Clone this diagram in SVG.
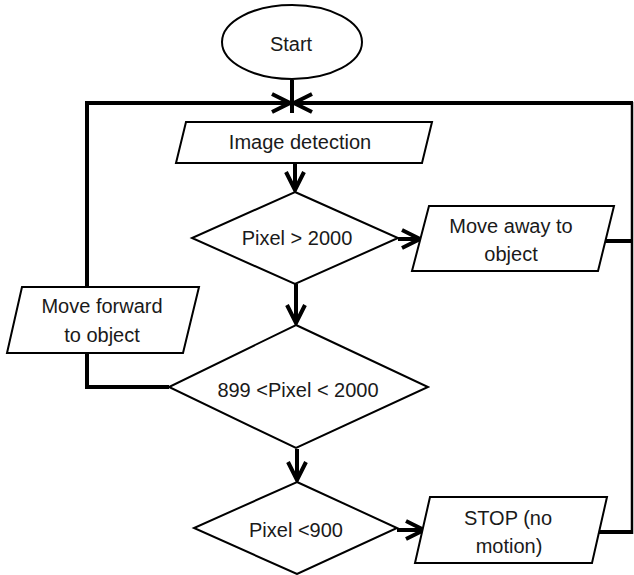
<svg xmlns="http://www.w3.org/2000/svg" width="634" height="575" viewBox="0 0 634 575">
  <style>
    .shape { fill: #ffffff; stroke: #000000; stroke-width: 2; stroke-linejoin: miter; }
    .label { font-family: "Liberation Sans", Arial, sans-serif; font-size: 20px; fill: #1a1a1a; text-anchor: middle; }
    .wire { fill: none; stroke: #000000; stroke-width: 4; stroke-linejoin: miter; }
    .thin { fill: none; stroke: #000000; stroke-width: 2.5; }
    .flow { fill: none; stroke: #000000; stroke-width: 4; marker-end: url(#chevron); }
  </style>
  <defs>
    <marker id="chevron" viewBox="-20 -11 22 22" refX="0" refY="0" markerWidth="22" markerHeight="22" markerUnits="userSpaceOnUse" orient="auto">
      <path d="M-18,-9 L0,0 L-18,9" fill="none" stroke="#000000" stroke-width="4" stroke-linejoin="miter"/>
    </marker>
  </defs>

  <!-- connectors -->
  <g id="connectors">
    <!-- start down to the merge point -->
    <line x1="292" y1="80" x2="292" y2="113" stroke="#000" stroke-width="4"/>
    <!-- return path from "Move forward" -->
    <path class="wire" d="M169,387 L87,387 L87,353"/>
    <path class="flow" d="M87,287 L87,103 L290,103"/>
    <!-- return path from the right-hand outputs -->
    <path class="wire" d="M605,241 L633,241"/>
    <path class="wire" d="M599,532 L633,532"/>
    <line class="thin" x1="632" y1="534" x2="632" y2="102"/>
    <path class="flow" d="M633,103 L294,103"/>
    <!-- main flow -->
    <path class="flow" d="M295,163 L295,190"/>
    <path class="flow" d="M398,239 L420,239"/>
    <path class="flow" d="M296,284 L296,323"/>
    <path class="flow" d="M297,449 L297,480"/>
    <path class="flow" d="M397,530 L424,530"/>
  </g>

  <g id="start">
    <ellipse class="shape" cx="292" cy="42" rx="70" ry="37"/>
    <text class="label" x="291" y="51">Start</text>
  </g>

  <g id="image-detection">
    <polygon class="shape" points="186,122 432,122 422,163 176,163"/>
    <text class="label" x="300" y="149">Image detection</text>
  </g>

  <g id="pixel-gt-2000">
    <polygon class="shape" points="295,192 398,238 295,284 192,238"/>
    <text class="label" x="297" y="245">Pixel &gt; 2000</text>
  </g>

  <g id="move-away">
    <polygon class="shape" points="429,206 614,206 598,271 412,271"/>
    <text class="label" x="511" y="233">Move away to</text>
    <text class="label" x="511" y="261">object</text>
  </g>

  <g id="move-forward">
    <polygon class="shape" points="22,287 199,287 183,353 7,353"/>
    <text class="label" x="102" y="313">Move forward</text>
    <text class="label" x="102" y="342">to object</text>
  </g>

  <g id="pixel-between">
    <polygon class="shape" points="296,325 428,387 296,448 169,387"/>
    <text class="label" x="298" y="397">899 &lt;Pixel &lt; 2000</text>
  </g>

  <g id="pixel-lt-900">
    <polygon class="shape" points="297,482 397,528 297,574 194,528"/>
    <text class="label" x="296" y="537">Pixel &lt;900</text>
  </g>

  <g id="stop">
    <polygon class="shape" points="430,497 607,497 592,563 415,563"/>
    <text class="label" x="508" y="525">STOP (no</text>
    <text class="label" x="509" y="553">motion)</text>
  </g>
</svg>
